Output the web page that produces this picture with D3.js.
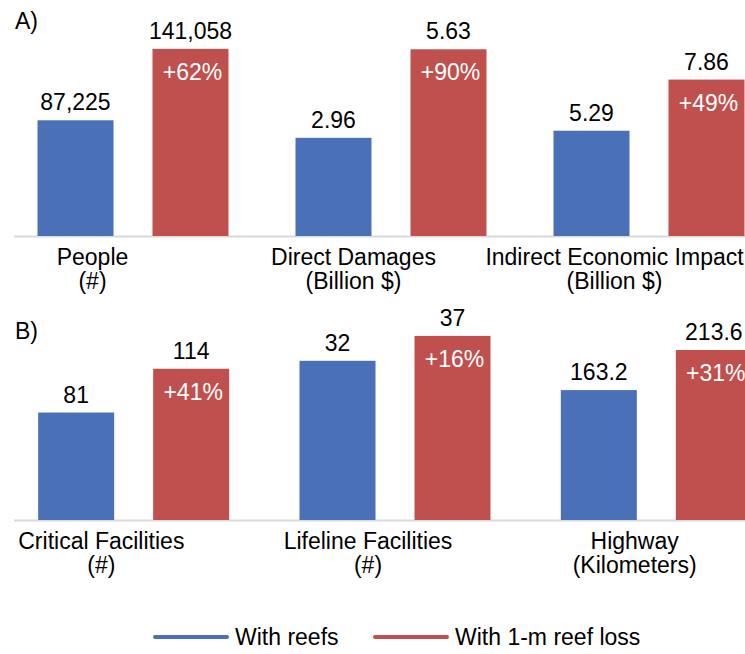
<!DOCTYPE html>
<html>
<head>
<meta charset="utf-8">
<script src="https://cdn.jsdelivr.net/npm/d3@7"></script>
<style>
  html, body { margin: 0; padding: 0; background: #fff; }
  svg { display: block; font-family: "Liberation Sans", Arial, sans-serif; }
</style>
</head>
<body>
<svg id="chart" width="745" height="654"></svg>
<script>
// Panel A: exposure and economic impact
const categoriesA = ["People", "Direct Damages", "Indirect Economic Impact"];
const unitsA = ["(#)", "(Billion $)", "(Billion $)"];
const withReefsA = [87225, 2.96, 5.29];
const reefLossA = [141058, 5.63, 7.86];
const labelsWithA = ["87,225", "2.96", "5.29"];
const labelsLossA = ["141,058", "5.63", "7.86"];
const changeA = ["+62%", "+90%", "+49%"];
const axisMaxA = [150000, 6, 10];

// Panel B: infrastructure
const categoriesB = ["Critical Facilities", "Lifeline Facilities", "Highway"];
const unitsB = ["(#)", "(#)", "(Kilometers)"];
const withReefsB = [81, 32, 163.2];
const reefLossB = [114, 37, 213.6];
const labelsWithB = ["81", "32", "163.2"];
const labelsLossB = ["114", "37", "213.6"];
const changeB = ["+41%", "+16%", "+31%"];
const axisMaxB = [150, 40, 250];

const seriesNames = ["With reefs", "With 1-m reef loss"];
const colors = { "With reefs": "#4a70b8", "With 1-m reef loss": "#c0504d" };

const svg = d3.select("#chart");
const FONT = 23;

function drawPanel(opt) {
  const g = svg.append("g");
  const x0 = d3.scaleBand().domain(d3.range(opt.categories.length)).range(opt.xRange);
  const xl = d3.scaleBand().domain(d3.range(opt.categories.length)).range(opt.labelRange);
  const x1 = d3.scalePoint().domain(seriesNames).range([-57.5, 57.5]);
  const barW = 76;

  // each category carries its own value axis
  const yScales = opt.axisMax.map(m => d3.scaleLinear().domain([0, m]).range([opt.base, opt.top]));

  // baseline
  g.append("line")
    .attr("x1", 14).attr("x2", 745)
    .attr("y1", opt.base + 0.5).attr("y2", opt.base + 0.5)
    .attr("stroke", "#d9d9d9").attr("stroke-width", 2);

  const rows = opt.categories.map((c, i) => ({
    i,
    bars: [
      { s: seriesNames[0], v: opt.withReefs[i], label: opt.labelsWith[i] },
      { s: seriesNames[1], v: opt.reefLoss[i], label: opt.labelsLoss[i], change: opt.change[i] }
    ]
  }));

  rows.forEach(r => {
    const cx = x0(r.i) + x0.bandwidth() / 2;
    const y = yScales[r.i];
    r.bars.forEach(b => {
      const bx = cx + x1(b.s);
      g.append("rect")
        .attr("x", bx - barW / 2)
        .attr("width", barW)
        .attr("y", y(b.v))
        .attr("height", y(0) - y(b.v))
        .attr("fill", colors[b.s]);
      g.append("text")
        .attr("x", bx).attr("y", y(b.v) - 10)
        .attr("text-anchor", "middle")
        .attr("font-size", FONT).attr("fill", "#000")
        .text(b.label);
      if (b.change) {
        g.append("text")
          .attr("x", bx + 2).attr("y", y(b.v) + 31)
          .attr("text-anchor", "middle")
          .attr("font-size", FONT).attr("fill", "#fff")
          .text(b.change);
      }
    });
    const lx = xl(r.i) + xl.bandwidth() / 2;
    g.append("text")
      .attr("x", lx).attr("y", opt.base + 29)
      .attr("text-anchor", "middle").attr("font-size", FONT).attr("fill", "#000")
      .text(opt.categories[r.i]);
    g.append("text")
      .attr("x", lx).attr("y", opt.base + 53)
      .attr("text-anchor", "middle").attr("font-size", FONT).attr("fill", "#000")
      .text(opt.units[r.i]);
  });

  g.append("text")
    .attr("x", 15).attr("y", opt.letterY)
    .attr("font-size", FONT).attr("fill", "#000")
    .text(opt.letter);
}

drawPanel({
  categories: categoriesA, units: unitsA,
  withReefs: withReefsA, reefLoss: reefLossA,
  labelsWith: labelsWithA, labelsLoss: labelsLossA,
  change: changeA, axisMax: axisMaxA,
  xRange: [4, 778], labelRange: [-38, 745],
  base: 236, top: 37, letter: "A)", letterY: 29
});

drawPanel({
  categories: categoriesB, units: unitsB,
  withReefs: withReefsB, reefLoss: reefLossB,
  labelsWith: labelsWithB, labelsLoss: labelsLossB,
  change: changeB, axisMax: axisMaxB,
  xRange: [3, 787], labelRange: [-32, 768],
  base: 520, top: 321, letter: "B)", letterY: 339
});

// legend
const legend = svg.append("g");
const legendItems = [
  { s: seriesNames[0], x: 153 },
  { s: seriesNames[1], x: 373 }
];
legendItems.forEach(d => {
  legend.append("line")
    .attr("x1", d.x + 2).attr("x2", d.x + 74)
    .attr("y1", 637).attr("y2", 637)
    .attr("stroke", colors[d.s]).attr("stroke-width", 4)
    .attr("stroke-linecap", "round");
  legend.append("text")
    .attr("x", d.x + 82).attr("y", 645)
    .attr("font-size", FONT).attr("fill", "#000")
    .text(d.s);
});
</script>
</body>
</html>
